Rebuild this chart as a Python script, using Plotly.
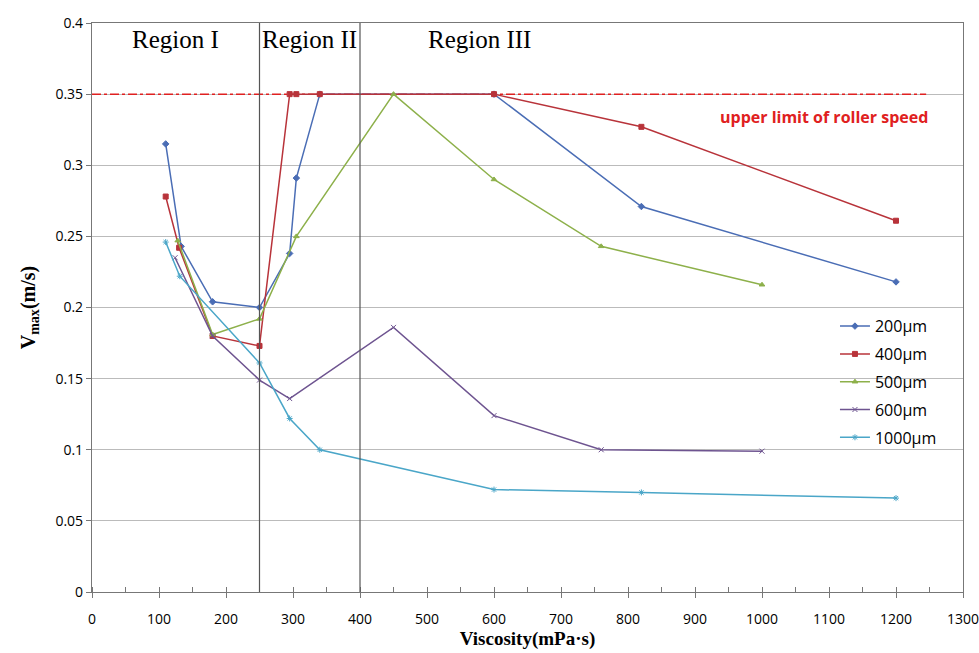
import plotly.graph_objects as go

# Data
x200 = [110, 133, 180, 250, 295, 305, 340, 600, 820, 1200]
y200 = [0.315, 0.243, 0.204, 0.200, 0.238, 0.291, 0.350, 0.350, 0.271, 0.218]

x400 = [110, 130, 180, 250, 295, 305, 340, 600, 820, 1200]
y400 = [0.278, 0.242, 0.180, 0.173, 0.350, 0.350, 0.350, 0.350, 0.327, 0.261]

x500 = [128, 180, 250, 305, 450, 600, 760, 1000]
y500 = [0.247, 0.181, 0.192, 0.250, 0.350, 0.290, 0.243, 0.216]

x600 = [124, 180, 250, 295, 450, 600, 760, 1000]
y600 = [0.235, 0.180, 0.149, 0.136, 0.186, 0.124, 0.100, 0.099]

x1000 = [110, 131, 250, 295, 340, 600, 820, 1200]
y1000 = [0.246, 0.222, 0.161, 0.122, 0.100, 0.072, 0.070, 0.066]

series_names = ["200µm", "400µm", "500µm", "600µm", "1000µm"]
colors = ["#4A6DB5", "#B8333A", "#8DB04A", "#6E5490", "#4AA6C8"]
symbols = ["diamond", "square", "triangle-up", "x-thin", "asterisk-open"]

limit_y = 0.35
limit_x = [0, 1245]
region_lines = [250, 400]
region_labels = ["Region I", "Region II", "Region III"]
region_label_x = [125, 325, 578]

fig = go.Figure()

# limit line
fig.add_trace(go.Scatter(x=limit_x, y=[limit_y, limit_y], mode="lines",
                         line=dict(color="#E02020", width=1.5, dash="dashdot"),
                         showlegend=False, hoverinfo="skip"))

data = [(x200, y200), (x400, y400), (x500, y500), (x600, y600), (x1000, y1000)]
for (xs, ys), name, c, s in zip(data, series_names, colors, symbols):
    fig.add_trace(go.Scatter(
        x=xs, y=ys, mode="lines+markers", name=name, legendgroup=name,
        line=dict(color=c, width=1.5),
        marker=dict(symbol=s, size=5, color=c, line=dict(color=c, width=1)),
    ))

for xv in region_lines:
    fig.add_shape(type="line", x0=xv, x1=xv, y0=0, y1=0.4, xref="x", yref="y",
                  line=dict(color="#555555", width=1.2), layer="above")

for lab, xv in zip(region_labels, region_label_x):
    fig.add_annotation(x=xv, y=0.3885, text=lab, showarrow=False, xref="x", yref="y",
                       font=dict(family="Liberation Serif", size=25, color="black"))

fig.add_annotation(x=1093, y=0.334, text="<b>upper limit of roller speed</b>", showarrow=False,
                   xref="x", yref="y",
                   font=dict(family="Open Sans", size=16, color="#E02020"))

fig.update_layout(
    width=979, height=653,
    margin=dict(l=92, r=16, t=23, b=61),
    plot_bgcolor="white", paper_bgcolor="white",
    legend=dict(x=0.853, y=0.497, xanchor="left", yanchor="top",
                font=dict(family="Open Sans", size=16, color="black"),
                bgcolor="rgba(0,0,0,0)", tracegroupgap=4, itemwidth=30),
    font=dict(family="Open Sans", color="black"),
)

fig.update_xaxes(range=[0, 1300], dtick=100, tick0=0, showgrid=False,
                 showline=True, mirror=True, linecolor="#777777", linewidth=1.2,
                 ticks="outside", ticklen=5, tickcolor="#777777",
                 ticklabelstandoff=9, ticklabeloverflow="allow", automargin=False,
                 minor=dict(ticks="inside", dtick=50, ticklen=5, tickcolor="#777777"),
                 tickfont=dict(family="Liberation Sans Narrow, Open Sans", size=14, color="black"),
                 title=dict(text="<b>Viscosity(mPa·s)</b>", standoff=3,
                            font=dict(family="Liberation Serif", size=19, color="black")),
                 zeroline=False)
fig.update_yaxes(range=[0, 0.4], dtick=0.05, tick0=0, showgrid=True,
                 gridcolor="#BBBBBB", gridwidth=1, automargin=False,
                 showline=True, mirror=True, linecolor="#777777", linewidth=1.2,
                 ticks="outside", ticklen=5, tickcolor="#777777",
                 tickfont=dict(family="Open Sans", size=14, color="black"),
                 title=dict(text="<b>V<sub>max</sub>(m/s)</b>", standoff=14,
                            font=dict(family="Liberation Serif", size=20, color="black")),
                 zeroline=False)

fig.write_html("out.html")
